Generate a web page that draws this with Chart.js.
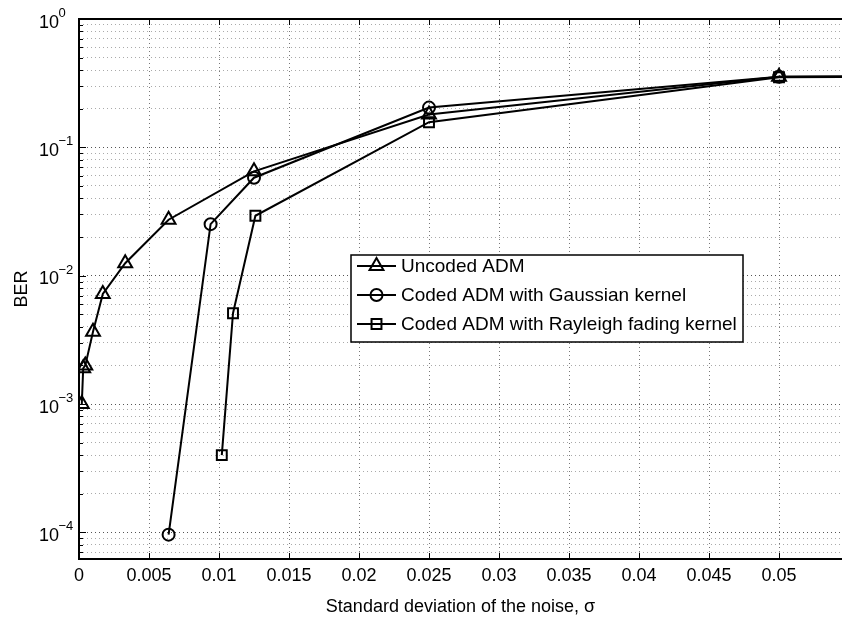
<!DOCTYPE html>
<html>
<head>
<meta charset="utf-8">
<script src="https://cdn.jsdelivr.net/npm/chart.js@4/dist/chart.umd.min.js"></script>
<style>
html,body{margin:0;padding:0;background:#fff;}
#wrap{width:842px;height:618px;}
</style>
</head>
<body>
<div id="wrap"><canvas id="c" width="842" height="618"></canvas></div>
<script>
// ---------- data ----------
const seriesNames = ["Uncoded ADM", "Coded ADM with Gaussian kernel", "Coded ADM with Rayleigh fading kernel"];
const sigmaUncoded = [0.0002, 0.0003, 0.00045, 0.001, 0.0017, 0.0033, 0.0064, 0.0125, 0.025, 0.05, 0.1];
const berUncoded   = [0.00100, 0.0019, 0.0020, 0.00365, 0.0072, 0.0125, 0.0273, 0.065, 0.18, 0.355, 0.37];
const sigmaGauss   = [0.0064, 0.0094, 0.0125, 0.025, 0.05, 0.1];
const berGauss     = [0.000096, 0.0252, 0.058, 0.204, 0.355, 0.37];
const sigmaRayl    = [0.0102, 0.011, 0.0126, 0.025, 0.05, 0.1];
const berRayl      = [0.0004, 0.0051, 0.0293, 0.157, 0.352, 0.37];
const xTickValues  = [0, 0.005, 0.01, 0.015, 0.02, 0.025, 0.03, 0.035, 0.04, 0.045, 0.05];
const yDecades     = [-4, -3, -2, -1, 0];
const xTitle = "Standard deviation of the noise, \u03c3";
const yTitle = "BER";

const FONT = "'Liberation Sans', Arial, Helvetica, sans-serif";
const X_MIN = 0, X_MAX = 0.0545, Y_MIN = 6.2e-5, Y_MAX = 1;

function pts(xs, ys){ return xs.map((v,i)=>({x:v, y:ys[i]})); }
function isDecade(v){ const l = Math.log10(v); return Math.abs(l - Math.round(l)) < 1e-9; }

const yTickValues = [];
for (let k = -5; k <= 0; k++) {
  for (let m = 1; m <= 9; m++) {
    const v = m * Math.pow(10, k);
    if (v >= Y_MIN * 0.999 && v <= Y_MAX * 1.0001) yTickValues.push(Number(v.toPrecision(6)));
  }
}

const styles = ['triangle', 'circle', 'rect'];
const radii = [8, 6, 7];

function drawMarker(ctx, style, x, y, r){
  ctx.beginPath();
  if (style === 'triangle') {
    let rad = 0;
    ctx.moveTo(x + Math.sin(rad)*r, y - Math.cos(rad)*r);
    rad += 2*Math.PI/3;
    ctx.lineTo(x + Math.sin(rad)*r, y - Math.cos(rad)*r);
    rad += 2*Math.PI/3;
    ctx.lineTo(x + Math.sin(rad)*r, y - Math.cos(rad)*r);
    ctx.closePath();
  } else if (style === 'circle') {
    ctx.arc(x, y, r, 0, Math.PI*2);
    ctx.closePath();
  } else {
    const s = Math.SQRT1_2 * r;
    ctx.rect(x - s, y - s, 2*s, 2*s);
  }
  ctx.stroke();
}

const deco = {
  id: 'deco',
  afterDraw(chart){
    const {ctx, chartArea: a, scales: {x, y}} = chart;
    ctx.save();
    // inward tick marks
    ctx.strokeStyle = '#000';
    ctx.lineWidth = 1;
    ctx.beginPath();
    xTickValues.forEach(v => {
      const px = Math.round(x.getPixelForValue(v)) + 0.5;
      ctx.moveTo(px, a.bottom); ctx.lineTo(px, a.bottom - 6);
      ctx.moveTo(px, a.top); ctx.lineTo(px, a.top + 6);
    });
    yTickValues.forEach(v => {
      const py = Math.round(y.getPixelForValue(v)) + 0.5;
      const len = isDecade(v) ? 7 : 4;
      ctx.moveTo(a.left, py); ctx.lineTo(a.left + len, py);
    });
    ctx.stroke();
    // axes box (left, bottom, top)
    ctx.lineWidth = 2;
    ctx.beginPath();
    ctx.moveTo(a.right, a.top); ctx.lineTo(a.left, a.top); ctx.lineTo(a.left, a.bottom); ctx.lineTo(a.right, a.bottom);
    ctx.stroke();
    // y tick labels 10^k
    ctx.fillStyle = '#000';
    ctx.textAlign = 'left';
    ctx.textBaseline = 'alphabetic';
    yDecades.forEach(k => {
      const py = y.getPixelForValue(Math.pow(10, k));
      ctx.font = '18px ' + FONT;
      ctx.fillText('10', 39, py + 8.5);
      ctx.font = '13px ' + FONT;
      ctx.fillText(k === 0 ? '0' : '\u2212' + (-k), 58.5, py - 2);
    });
    // legend
    const L = {left: 351, top: 255, right: 743, bottom: 342};
    ctx.fillStyle = '#fff';
    ctx.fillRect(L.left, L.top, L.right - L.left, L.bottom - L.top);
    ctx.strokeStyle = '#000';
    ctx.lineWidth = 1.5;
    ctx.strokeRect(L.left, L.top, L.right - L.left, L.bottom - L.top);
    const rows = [266, 295, 324];
    seriesNames.forEach((name, i) => {
      const ry = rows[i];
      ctx.strokeStyle = '#000';
      ctx.lineWidth = 2;
      ctx.beginPath(); ctx.moveTo(357, ry); ctx.lineTo(396, ry); ctx.stroke();
      drawMarker(ctx, styles[i], 376.5, ry, radii[i]);
      ctx.fillStyle = '#000';
      ctx.font = '19px ' + FONT;
      ctx.textBaseline = 'middle';
      ctx.fillText(name, 401, ry + 1);
    });
    ctx.restore();
  }
};

function ds(label, xs, ys, i){
  return {
    label: label,
    data: pts(xs, ys),
    borderColor: '#000',
    borderWidth: 2,
    pointStyle: styles[i],
    pointRadius: radii[i],
    pointHoverRadius: radii[i],
    pointBorderWidth: 2,
    pointBorderColor: '#000',
    pointBackgroundColor: 'rgba(0,0,0,0)',
    backgroundColor: 'rgba(0,0,0,0)',
    fill: false,
    tension: 0
  };
}

new Chart(document.getElementById('c'), {
  type: 'line',
  data: {
    datasets: [
      ds(seriesNames[0], sigmaUncoded, berUncoded, 0),
      ds(seriesNames[1], sigmaGauss, berGauss, 1),
      ds(seriesNames[2], sigmaRayl, berRayl, 2)
    ]
  },
  options: {
    responsive: false,
    animation: false,
    devicePixelRatio: 1,
    layout: {autoPadding: false, padding: {left: 0, right: 0, top: 19, bottom: 0}},
    plugins: {legend: {display: false}, tooltip: {enabled: false}},
    scales: {
      x: {
        type: 'linear',
        min: X_MIN, max: X_MAX,
        afterBuildTicks: s => { s.ticks = xTickValues.map(v => ({value: v})); },
        afterFit: s => { s.height = 59; s.paddingLeft = 0; s.paddingRight = 0; },
        ticks: {
          autoSkip: false, maxRotation: 0, padding: 6, color: '#000',
          font: {family: FONT, size: 18},
          callback: v => (Math.round(v * 1000) / 1000).toString()
        },
        grid: {color: '#777', lineWidth: 1, drawTicks: false},
        border: {display: false, dash: [1, 3]},
        title: {display: true, text: xTitle, color: '#000', font: {family: FONT, size: 18}, padding: {top: 0, bottom: 0}}
      },
      y: {
        type: 'logarithmic',
        min: Y_MIN, max: Y_MAX,
        afterBuildTicks: s => { s.ticks = yTickValues.map(v => ({value: v, major: isDecade(v)})); },
        afterFit: s => { s.width = 79; s.paddingTop = 0; s.paddingBottom = 0; },
        ticks: {display: false},
        grid: {
          drawTicks: false, lineWidth: 1,
          color: c => (c.tick && isDecade(c.tick.value)) ? '#555' : '#aaa'
        },
        border: {display: false, dash: [1, 3]},
        title: {display: true, text: yTitle, color: '#000', font: {family: FONT, size: 18}, padding: {top: 11, bottom: 0}}
      }
    }
  },
  plugins: [deco]
});
</script>
</body>
</html>
